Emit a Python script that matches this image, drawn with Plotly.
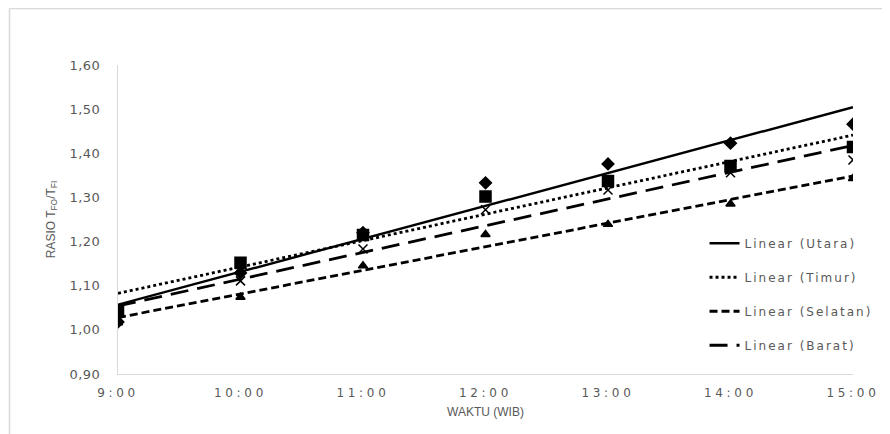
import numpy as np
import plotly.graph_objects as go

categories = ["9:00", "10:00", "11:00", "12:00", "13:00", "14:00", "15:00"]
utara = [1.018, 1.129, 1.220, 1.333, 1.376, 1.423, 1.466]
timur = [1.043, 1.152, 1.215, 1.302, 1.337, 1.371, 1.414]
selatan = [1.016, 1.074, 1.145, 1.216, 1.239, 1.285, 1.343]
barat = [1.028, 1.111, 1.183, 1.272, 1.317, 1.356, 1.385]
y_ticks = [0.90, 1.00, 1.10, 1.20, 1.30, 1.40, 1.50, 1.60]


def spaced(text, px):
    return f'<span style="letter-spacing:{px}px">{text}</span>'


xs = np.arange(len(categories))

series = [
    ("Utara", utara, "diamond", 9, "solid", 2.4),
    ("Timur", timur, "square", 11, "dot", 2.8),
    ("Selatan", selatan, "triangle-up", 8, "8px,4px", 2.8),
    ("Barat", barat, "x-thin", 9, "18px,9px", 2.8),
]

fig = go.Figure()
for name, vals, sym, size, dash, w in series:
    fig.add_trace(go.Scatter(
        x=xs, y=vals, mode="markers", showlegend=False, name=name,
        marker=dict(symbol=sym, size=size, color="black",
                    line=dict(color="black", width=1.5)),
    ))

for i, (name, vals, sym, size, dash, w) in enumerate(series):
    slope, icpt = np.polyfit(xs, vals, 1)
    fig.add_trace(go.Scatter(
        x=xs, y=slope * xs + icpt, mode="lines",
        name=spaced(f"Linear ({name})", 2.0),
        line=dict(color="black", width=w, dash=dash),
        legendgroup=f"g{i}",
    ))

grey = "#595959"
L, R, T, B = 110, 45, 57, 68
plot_w = 890 - L - R
plot_h = 434 - T - B
fig.update_layout(
    width=890, height=434,
    margin=dict(l=L, r=R, t=T, b=B),
    paper_bgcolor="white", plot_bgcolor="white",
    showlegend=True,
    legend=dict(x=0.798, y=0.47, xanchor="left", yanchor="top",
                font=dict(family="DejaVu Sans", size=12, color=grey),
                tracegroupgap=15, bgcolor="rgba(0,0,0,0)"),
    xaxis=dict(
        range=[0, 6], tickmode="array", tickvals=xs,
        ticktext=[spaced(c, 3.7) for c in categories],
        showline=True, linecolor="#d9d9d9", linewidth=1, showgrid=False,
        zeroline=False, ticks="", ticklen=0, ticklabelstandoff=8,
        tickfont=dict(family="DejaVu Sans", size=12, color=grey),
        title=dict(text="WAKTU (WIB)", standoff=8,
                   font=dict(family="Liberation Sans", size=12, color=grey)),
    ),
    yaxis=dict(
        range=[0.9, 1.6], tickmode="array", tickvals=y_ticks,
        ticktext=[spaced(f"{v:.2f}".replace(".", ","), 0.5) for v in y_ticks],
        showline=True, linecolor="#d9d9d9", linewidth=1, showgrid=False,
        zeroline=False, ticks="", ticklen=0, ticklabelstandoff=14,
        tickfont=dict(family="DejaVu Sans", size=13, color=grey),
        title=dict(text="RASIO T<sub>FO</sub>/T<sub>FI</sub>", standoff=11,
                   font=dict(family="Liberation Sans", size=12, color=grey)),
    ),
    shapes=[
        dict(type="line", xref="paper", yref="paper",
             x0=(1.5 - L) / plot_w, x1=(1.5 - L) / plot_w,
             y0=(T + plot_h - 0.5) / plot_h, y1=-1,
             line=dict(color="#d9d9d9", width=1.5)),
        dict(type="line", xref="paper", yref="paper",
             x0=(1.5 - L) / plot_w, x1=2,
             y0=(T + plot_h - 0.5) / plot_h, y1=(T + plot_h - 0.5) / plot_h,
             line=dict(color="#d9d9d9", width=1.5)),
    ],
)

fig.write_html("out.html")
